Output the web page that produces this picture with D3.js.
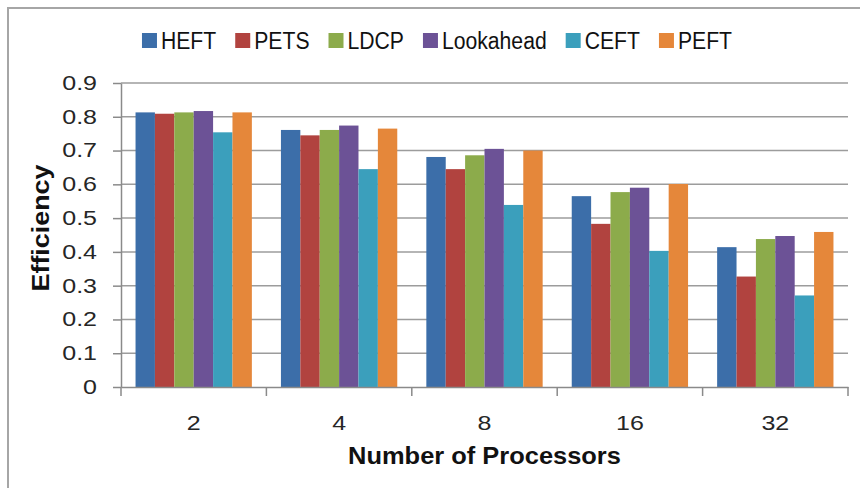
<!DOCTYPE html>
<html lang="en">
<head>
<meta charset="UTF-8">
<title>Efficiency vs Number of Processors</title>
<style>
  body { margin: 0; background: #fff; }
  svg { display: block; }
</style>
</head>
<body>
<script src="https://cdn.jsdelivr.net/npm/d3@7"></script>
<div id="chart"></div>
<script>
// data
const categories = ["2", "4", "8", "16", "32"]
const seriesNames = ["HEFT", "PETS", "LDCP", "Lookahead", "CEFT", "PEFT"]
const heft = [0.813, 0.761, 0.681, 0.565, 0.414]
const pets = [0.809, 0.745, 0.645, 0.483, 0.327]
const ldcp = [0.813, 0.761, 0.686, 0.577, 0.438]
const lookahead = [0.817, 0.774, 0.705, 0.590, 0.447]
const ceft = [0.754, 0.645, 0.539, 0.403, 0.271]
const peft = [0.813, 0.765, 0.700, 0.601, 0.459]
const yTicks = [0, 0.1, 0.2, 0.3, 0.4, 0.5, 0.6, 0.7, 0.8, 0.9]

const seriesValues = [heft, pets, ldcp, lookahead, ceft, peft]
const colors = ["#3c6ea9", "#b1433f", "#8cab4b", "#6c5296", "#3b9fbc", "#e5873a"]

const W = 860, H = 488
const MARGIN = { LEFT: 121, RIGHT: 12, TOP: 83, BOTTOM: 101 }
const WIDTH = W - MARGIN.LEFT - MARGIN.RIGHT
const HEIGHT = H - MARGIN.TOP - MARGIN.BOTTOM

const svg = d3.select("#chart").append("svg")
    .attr("width", W)
    .attr("height", H)

// outer frame (runs off the right and bottom edge like the source)
svg.append("rect")
    .attr("x", 8).attr("y", 8)
    .attr("width", W + 20).attr("height", H + 20)
    .attr("fill", "#fff")
    .attr("stroke", "#a6a6a6")
    .attr("stroke-width", 2)

const g = svg.append("g")
    .attr("transform", `translate(${MARGIN.LEFT}, ${MARGIN.TOP})`)

const x0 = d3.scaleBand()
    .domain(categories)
    .range([0, WIDTH])
    .padding(0)

const x1 = d3.scaleBand()
    .domain(seriesNames)
    .range([0, x0.bandwidth()])
    .paddingInner(0)
    .paddingOuter(0.75)

const y = d3.scaleLinear()
    .domain([0, 0.9])
    .range([HEIGHT, 0])

// stretch text horizontally, the source chart was scaled wider than tall
const stretch = (sel, k) => sel.each(function () {
    const w = this.getComputedTextLength()
    d3.select(this).attr("textLength", w * k).attr("lengthAdjust", "spacingAndGlyphs")
})

// gridlines
g.append("g").selectAll("line")
    .data(yTicks.filter(d => d > 0))
    .join("line")
    .attr("x1", 0).attr("x2", WIDTH)
    .attr("y1", d => y(d)).attr("y2", d => y(d))
    .attr("stroke", "#9c9c9c")
    .attr("stroke-width", 1.5)

// bars
const rows = categories.map((c, i) => ({ cat: c, vals: seriesNames.map((s, j) => ({ s, v: seriesValues[j][i], color: colors[j] })) }))

g.append("g").selectAll("g")
    .data(rows)
    .join("g")
    .attr("transform", d => `translate(${x0(d.cat)}, 0)`)
    .selectAll("rect")
    .data(d => d.vals)
    .join("rect")
    .attr("x", d => x1(d.s))
    .attr("width", x1.bandwidth())
    .attr("y", d => y(d.v))
    .attr("height", d => HEIGHT - y(d.v))
    .attr("fill", d => d.color)

// y axis
const yAxis = g.append("g")
    .call(d3.axisLeft(y).tickValues(yTicks).tickSize(8).tickSizeOuter(0).tickPadding(16)
        .tickFormat(d => d === 0 ? "0" : d3.format(".1f")(d)))
yAxis.selectAll("path, line").attr("stroke", "#8a8a8a").attr("stroke-width", 1.5)
yAxis.selectAll("text")
    .attr("font-family", "'Liberation Sans', Arial, sans-serif")
    .attr("font-size", 20)
    .attr("fill", "#262626")
    .call(stretch, 1.25)

// x axis: labels centred in bands, tick marks on band edges
const xAxis = g.append("g")
    .attr("transform", `translate(0, ${HEIGHT})`)
    .call(d3.axisBottom(x0).tickSize(0).tickSizeOuter(0).tickPadding(29))
xAxis.select("path").attr("stroke", "#8a8a8a").attr("stroke-width", 1.5)
xAxis.selectAll("text")
    .attr("font-family", "'Liberation Sans', Arial, sans-serif")
    .attr("font-size", 20)
    .attr("fill", "#262626")
    .call(stretch, 1.25)

const edges = categories.map(c => x0(c)).concat([x0.range()[1]])
xAxis.selectAll("line.edge")
    .data(edges)
    .join("line")
    .attr("class", "edge")
    .attr("x1", d => d).attr("x2", d => d)
    .attr("y1", 0).attr("y2", 9)
    .attr("stroke", "#8a8a8a")
    .attr("stroke-width", 1.5)

// axis titles
svg.append("text")
    .attr("x", MARGIN.LEFT + WIDTH / 2)
    .attr("y", 464)
    .attr("text-anchor", "middle")
    .attr("font-family", "'Liberation Sans', Arial, sans-serif")
    .attr("font-weight", "bold")
    .attr("font-size", 24)
    .attr("fill", "#111")
    .text("Number of Processors")
    .call(stretch, 1.06)

svg.append("text")
    .attr("transform", `translate(49, 228) rotate(-90)`)
    .attr("text-anchor", "middle")
    .attr("font-family", "'Liberation Sans', Arial, sans-serif")
    .attr("font-weight", "bold")
    .attr("font-size", 24)
    .attr("fill", "#111")
    .text("Efficiency")
    .call(stretch, 1.12)

// legend
const legend = svg.append("g")
const SQ = 15, GAP_TXT = 4, GAP_ITEM = 19
const items = legend.selectAll("g")
    .data(seriesNames.map((s, i) => ({ s, color: colors[i] })))
    .join("g")
items.append("rect")
    .attr("width", SQ).attr("height", SQ)
    .attr("y", 33)
    .attr("fill", d => d.color)
items.append("text")
    .attr("x", SQ + GAP_TXT)
    .attr("y", 49)
    .attr("font-family", "'Liberation Sans', Arial, sans-serif")
    .attr("font-size", 23)
    .attr("fill", "#111")
    .text(d => d.s)
    .call(stretch, 0.92)

let cursor = 0
items.each(function () {
    const w = +d3.select(this).select("text").attr("textLength")
    d3.select(this).attr("transform", `translate(${cursor}, 0)`)
    cursor += SQ + GAP_TXT + w + GAP_ITEM
})
const legendWidth = cursor - GAP_ITEM
legend.attr("transform", `translate(${437 - legendWidth / 2}, 0)`)
</script>
</body>
</html>
